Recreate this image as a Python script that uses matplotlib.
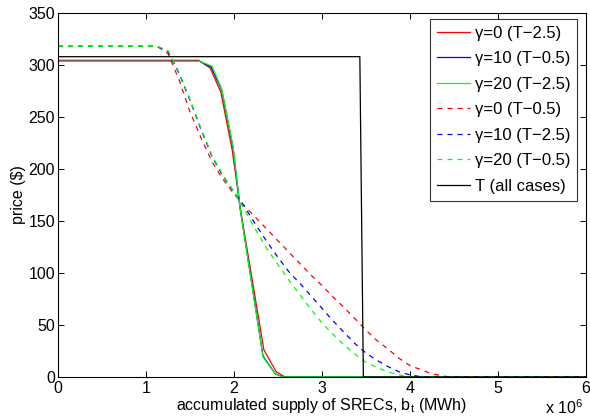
import matplotlib
matplotlib.use("Agg")
import matplotlib.pyplot as plt

plt.rcParams['font.family'] = ['Liberation Sans', 'DejaVu Sans']

# supply in units of 1e6 MWh
x_red_solid = [0, 1.60, 1.73, 1.85, 1.98, 2.07, 2.34, 2.48, 2.58, 6.0]
y_red_solid = [304.5, 304.5, 297, 274, 218, 163, 26, 5, 0, 0]

x_blue_solid = [0, 1.61, 1.74, 1.86, 1.99, 2.07, 2.33, 2.47, 2.56, 6.0]
y_blue_solid = [303.5, 303.5, 298, 276, 220, 162, 20, 3, 0, 0]

x_green_solid = [0, 1.61, 1.75, 1.86, 1.99, 2.07, 2.33, 2.47, 2.55, 6.0]
y_green_solid = [303.5, 303.5, 299, 277, 221, 162, 19, 3, 0, 0]

x_red_dash = [0, 1.125, 1.25, 1.375, 1.5, 1.625, 1.75, 1.875, 2.0, 2.125, 2.25,
              2.375, 2.5, 2.625, 2.75, 2.875, 3.0, 3.125, 3.25, 3.375, 3.5,
              3.625, 3.75, 3.875, 4.0, 4.125, 4.25, 4.375, 4.45, 6.0]
y_red_dash = [318, 318, 311, 286, 255, 230, 207, 190, 176, 164, 153, 142, 131,
              120, 109, 98, 88, 77, 67, 56, 45, 35, 27, 18, 11, 7, 3, 1, 0, 0]

x_blue_dash = [0, 1.125, 1.25, 1.375, 1.5, 1.625, 1.75, 1.875, 2.0, 2.125, 2.25,
               2.375, 2.5, 2.625, 2.75, 2.875, 3.0, 3.125, 3.25, 3.375, 3.5,
               3.625, 3.75, 3.875, 4.0, 4.15, 6.0]
y_blue_dash = [318, 318, 313, 292, 266, 238, 212, 193, 178, 163, 146, 130, 115,
               101, 90, 78, 66, 54, 43, 32, 23, 16, 10, 5, 2, 0, 0]

x_green_dash = [0, 1.125, 1.25, 1.375, 1.5, 1.625, 1.75, 1.875, 2.0, 2.125, 2.25,
                2.375, 2.5, 2.625, 2.75, 2.875, 3.0, 3.125, 3.25, 3.375, 3.5,
                3.625, 3.75, 3.875, 4.0, 6.0]
y_green_dash = [318, 318, 314, 293, 267, 239, 213, 194, 178, 160, 141, 123, 108,
                93, 79, 65, 52, 41, 31, 22, 14, 9, 5, 2, 0, 0]

x_T = [0, 3.43, 3.47, 6.0]
y_T = [308, 308, 0, 0]

labels = ['γ=0 (T−2.5)', 'γ=10 (T−0.5)', 'γ=20 (T−2.5)',
          'γ=0 (T−0.5)', 'γ=10 (T−2.5)', 'γ=20 (T−0.5)', 'T (all cases)']

fig = plt.figure(figsize=(5.9, 4.2), dpi=100)
ax = fig.add_axes([58/590, 1-377/420, (586-58)/590, (377-13)/420])

lw = 0.9
ax.plot(x_red_solid, y_red_solid, color='#ff0000', lw=lw, label=labels[0])
ax.plot(x_blue_solid, y_blue_solid, color='#0000ff', lw=lw, label=labels[1])
ax.plot(x_green_solid, y_green_solid, color='#00ff00', lw=lw, label=labels[2])
ax.plot(x_red_dash, y_red_dash, color='#ff0000', lw=lw, ls=(0, (4, 4)), label=labels[3])
ax.plot(x_blue_dash, y_blue_dash, color='#0000ff', lw=lw, ls=(0, (4, 4)), label=labels[4])
ax.plot(x_green_dash, y_green_dash, color='#00ff00', lw=lw, ls=(0, (4, 4)), label=labels[5])
ax.plot(x_T, y_T, color='black', lw=lw, label=labels[6])

ax.set_xlim(0, 6)
ax.set_ylim(0, 350)
ax.set_xticks([0, 1, 2, 3, 4, 5, 6])
ax.set_yticks([0, 50, 100, 150, 200, 250, 300, 350])
ax.tick_params(direction='in', top=True, right=True, length=4, width=0.7,
               labelsize=11.5)
ax.tick_params(axis='x', pad=3)
ax.tick_params(axis='y', pad=2)
for s in ax.spines.values():
    s.set_linewidth(0.8)

ax.set_xlabel('accumulated supply of SRECs, b$_\\mathregular{t}$ (MWh)',
              fontsize=11.5, labelpad=0)
ax.set_ylabel('price ($)', fontsize=11.5, labelpad=2)
fig.text(583/590, 1-414/420, 'x 10$^\\mathregular{6}$', ha='right', va='baseline',
         fontsize=11.5)

leg = ax.legend(loc='upper right', bbox_to_anchor=(0.9835, 0.984), fontsize=12,
                frameon=True, fancybox=False, edgecolor='black',
                handlelength=2.0, labelspacing=0.63, borderpad=0.42,
                handletextpad=0.25, borderaxespad=0)
leg.get_frame().set_linewidth(0.8)

fig.savefig('out.png', dpi=100)
